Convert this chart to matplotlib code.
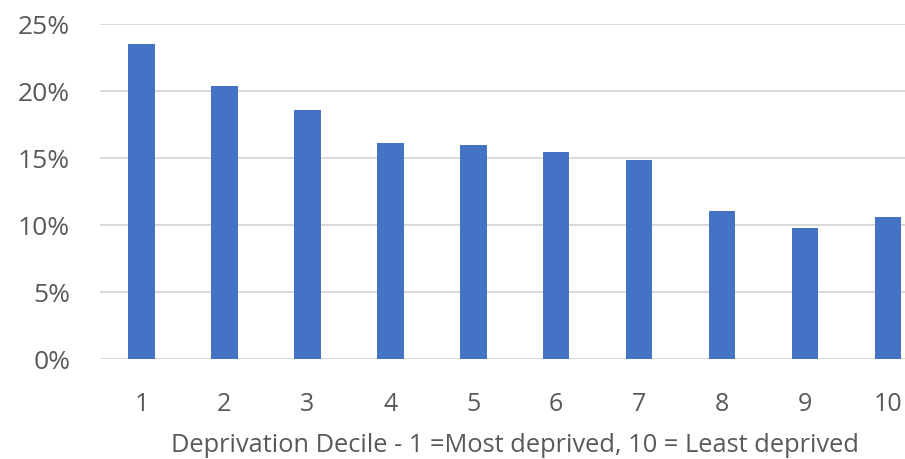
import matplotlib
matplotlib.use("Agg")
import matplotlib.pyplot as plt
from matplotlib.ticker import FuncFormatter

deciles = ["1", "2", "3", "4", "5", "6", "7", "8", "9", "10"]
values = [23.5, 20.35, 18.55, 16.12, 15.99, 15.42, 14.87, 11.07, 9.75, 10.57]
y_ticks = [0, 5, 10, 15, 20, 25]
x_label = "Deprivation Decile - 1 =Most deprived, 10 = Least deprived"

plt.rcParams['font.family'] = ['Open Sans', 'DejaVu Sans']
text_color = "#595959"

fig = plt.figure(figsize=(9.05, 4.6), dpi=100)
ax = fig.add_axes([100/905, 100/460, 829.5/905, 335/460])

x = list(range(len(deciles)))
ax.bar(x, values, width=0.32, color="#4472C4", zorder=3)
ax.set_xlim(-0.5, len(deciles) - 0.5)
ax.set_ylim(0, 25)
ax.set_yticks(y_ticks)
ax.yaxis.set_major_formatter(FuncFormatter(lambda v, p: f"{int(v)}%"))
ax.set_xticks(x)
ax.set_xticklabels(deciles)
ax.grid(axis="y", color="#d9d9d9", linewidth=1.4, zorder=0)
for s in ax.spines.values():
    s.set_visible(False)
ax.tick_params(axis="both", length=0, colors=text_color)
ax.tick_params(axis="y", pad=21.5, labelsize=19)
ax.tick_params(axis="x", pad=23, labelsize=18)
ax.set_xlabel(x_label, fontsize=18.3, color=text_color, labelpad=11.5)

fig.savefig("out.png", dpi=100)
